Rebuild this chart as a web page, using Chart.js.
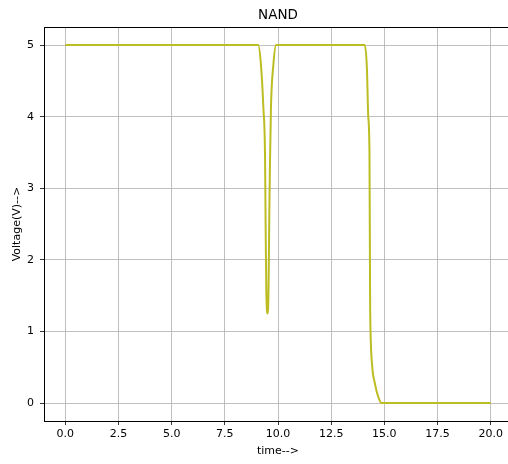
<!DOCTYPE html>
<html>
<head>
<meta charset="utf-8">
<script src="https://cdn.jsdelivr.net/npm/chart.js@4/dist/chart.umd.min.js"></script>
<style>
html,body{margin:0;padding:0;background:#fff;overflow:hidden;width:508px;height:464px;}
#wrap{width:520px;height:464px;}
</style>
</head>
<body>
<div id="wrap"><canvas id="c" width="520" height="464"></canvas></div>
<script>
// Data
const chartTitle = "NAND";
const xLabel = "time-->";
const yLabel = "Voltage(V)-->";
const time = [0, 9.0, 9.07, 9.2, 9.31, 9.39, 9.42, 9.45, 9.48, 9.5, 9.53, 9.56, 9.59, 9.62, 9.67, 9.78, 9.91, 10.0,
              14.0, 14.08, 14.18, 14.24, 14.30, 14.33, 14.35, 14.43, 14.55, 14.71, 14.87, 20.0];
const voltage = [5, 5, 5, 4.72, 4.14, 3.46, 2.42, 1.58, 1.3, 1.25, 1.3, 1.7, 2.6, 3.3, 4.14, 4.72, 5, 5,
                 5, 5, 4.67, 4.02, 3.49, 1.44, 1.0, 0.51, 0.28, 0.09, 0, 0];
const xTicks = [0, 2.5, 5, 7.5, 10, 12.5, 15, 17.5, 20];
const yTicks = [0, 1, 2, 3, 4, 5];

const points = time.map((t, i) => ({x: t, y: voltage[i]}));
const FONT = "'DejaVu Sans', sans-serif";

const framePlugin = {
  id: 'frame',
  afterDraw(chart) {
    const {ctx, chartArea: a} = chart;
    ctx.save();
    ctx.strokeStyle = '#000';
    ctx.lineWidth = 1;
    ctx.strokeRect(Math.round(a.left) + 0.5, Math.round(a.top) + 0.5, Math.round(a.right - a.left), Math.round(a.bottom - a.top));
    ctx.restore();
  }
};

new Chart(document.getElementById('c'), {
  type: 'line',
  data: {
    datasets: [{
      data: points,
      borderColor: '#bcbd22',
      borderWidth: 2,
      pointRadius: 0,
      fill: false,
      cubicInterpolationMode: 'monotone'
    }]
  },
  options: {
    responsive: false,
    animation: false,
    layout: {padding: {left: 0, right: 8, top: 0, bottom: 0}},
    plugins: {
      legend: {display: false},
      tooltip: {enabled: false},
      title: {
        display: true,
        text: chartTitle,
        fullSize: false,
        color: '#000',
        font: {family: FONT, size: 13.5, weight: 'normal'},
        padding: {top: 7, bottom: 4}
      }
    },
    scales: {
      x: {
        type: 'linear',
        min: -1, max: 21,
        afterFit(s) { s.height = 43; },
        afterBuildTicks(s) { s.ticks = xTicks.map(v => ({value: v})); },
        ticks: {
          includeBounds: false,
          color: '#000',
          font: {family: FONT, size: 11},
          padding: 3,
          maxRotation: 0,
          autoSkip: false,
          callback: v => Number(v).toFixed(1)
        },
        grid: {color: '#b0b0b0', lineWidth: 0.8, tickColor: '#000', tickLength: 4, drawTicks: true},
        border: {display: true, color: '#000', width: 1},
        title: {display: true, text: xLabel, color: '#000', font: {family: FONT, size: 11}, padding: {top: 0, bottom: 6.4}}
      },
      y: {
        type: 'linear',
        min: -0.25, max: 5.25,
        afterFit(s) { s.width = 44; },
        afterBuildTicks(s) { s.ticks = yTicks.map(v => ({value: v})); },
        ticks: {
          includeBounds: false,
          color: '#000',
          font: {family: FONT, size: 11},
          padding: 6,
          autoSkip: false,
          callback: v => String(v)
        },
        grid: {color: '#b0b0b0', lineWidth: 0.8, tickColor: '#000', tickLength: 4, drawTicks: true},
        border: {display: true, color: '#000', width: 1},
        title: {display: true, text: yLabel, color: '#000', font: {family: FONT, size: 11}, padding: {top: 10.4, bottom: 0}}
      }
    }
  },
  plugins: [framePlugin]
});
</script>
</body>
</html>
